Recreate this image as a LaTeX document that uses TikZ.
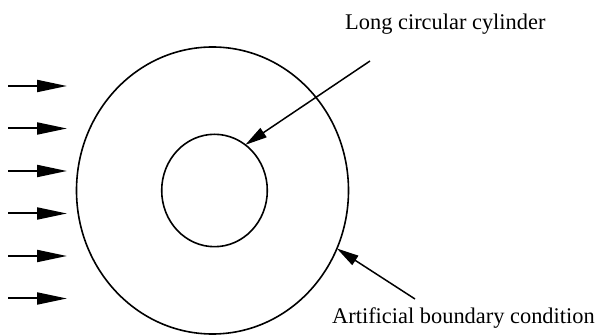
\documentclass[tikz,border=0pt]{standalone}
\usepackage{fontspec}
\setmainfont{Liberation Serif}
\usetikzlibrary{arrows.meta,shapes.geometric}

\tikzset{
  ringshape/.style={ellipse, draw, line width=1.6pt, inner sep=0pt, outer sep=0pt},
  flow/.style={line width=2pt, -{Triangle[length=30pt,width=12pt]}},
  pointer/.style={line width=1.5pt, -{Triangle[length=22pt,width=11pt]}},
  notetext/.style={font=\fontsize{22.4}{26}\selectfont, inner sep=0pt}
}

\begin{document}
\begin{tikzpicture}[x=1pt,y=-1pt]
        \useasboundingbox (0,0) rectangle (595,336);
        % outer boundary and cylinder
        \node[ringshape, minimum width=272pt, minimum height=287pt] (outer) at (212.5,190.5) {};
        \node[ringshape, minimum width=105.6pt, minimum height=112.4pt] (cyl) at (214.5,190.5) {};
        % incoming flow
        \foreach \i in {0,...,5} {
          \coordinate (in\i) at (8,86+42.5*\i);
          \coordinate (to\i) at (67,86+42.5*\i);
          \draw[flow] (in\i) -- (to\i);
        }
        % labels
        \node[notetext, anchor=base west] (cyllabel) at (345,29.3) {Long circular cylinder};
        \node[notetext, anchor=base west] (bclabel) at (332,324) {Artificial boundary condition};
        \coordinate (cyltail) at (370,61);
        \coordinate (bctail) at (415,299);
        \draw[pointer] (cyltail) -- (cyl.56.5);
        \draw[pointer] (bctail) -- (outer.-25.8);
      \end{tikzpicture}
\end{document}
